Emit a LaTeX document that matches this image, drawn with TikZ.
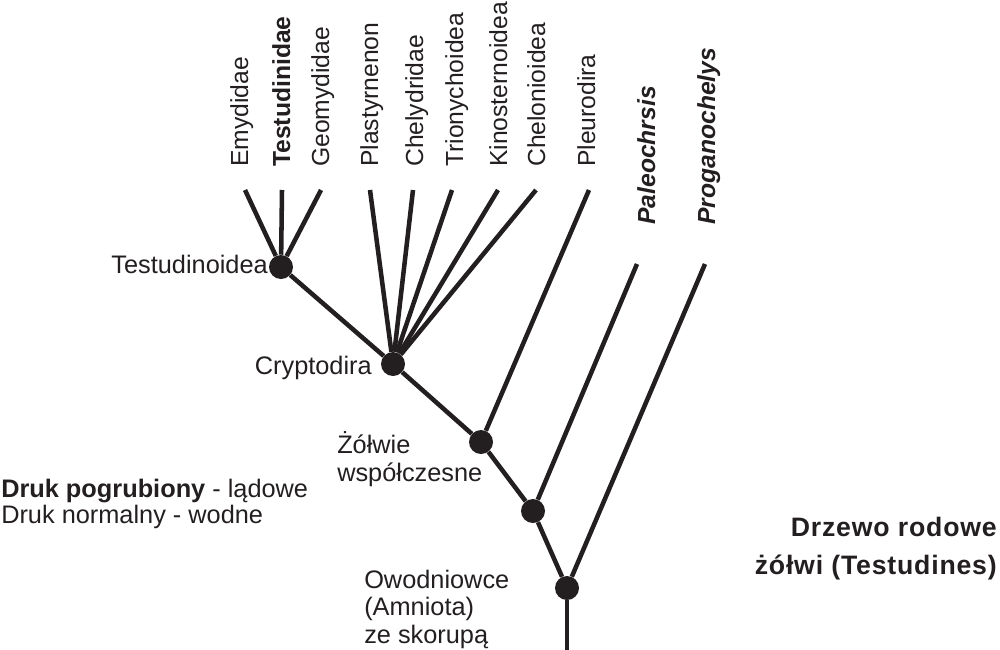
\documentclass[tikz,border=0pt]{standalone}
\usepackage{fontspec}
\setmainfont{Liberation Sans}
\newfontfamily\titlefont[LetterSpace=3]{Liberation Sans}
\usepackage{xcolor}
\usepackage{tikz}
\usetikzlibrary{positioning}
\definecolor{ink}{HTML}{231F20}

\begin{document}
\begin{tikzpicture}[
    x=0.75pt, y=-0.75pt,
    every node/.style={inner sep=0pt, text=ink},
    branch/.style={line width=3.4pt, draw=ink},
    clade/.style={circle, fill=ink, minimum size=18pt, inner sep=0pt},
    taxon/.style={rotate=90, anchor=base west, font=\fontsize{18.5}{22}\selectfont},
    lbl/.style={font=\fontsize{19}{20.5}\selectfont, align=left}
]
\useasboundingbox (0,0) rectangle (1000,650);

% clades
\node[clade] (testud) at (281,267) {};
\node[clade] (crypt)  at (393,364) {};
\node[clade] (modern) at (481,442) {};
\node[clade] (stem)   at (533,511) {};
\node[clade] (amnio)  at (567,588) {};
\coordinate (base) at (567,650);

% taxa
\node[taxon] (emy) at (248,167) {Emydidae};
\node[taxon] (tes) at (290,167) {\bfseries Testudinidae};
\node[taxon] (geo) at (329,167) {Geomydidae};
\node[taxon] (pla) at (378,167) {Plastyrnenon};
\node[taxon] (che) at (423,167) {Chelydridae};
\node[taxon] (tri) at (463,167) {Trionychoidea};
\node[taxon] (kin) at (507,167) {Kinosternoidea};
\node[taxon] (chl) at (545,167) {Chelonioidea};
\node[taxon] (ple) at (595,167) {Pleurodira};
\node[taxon] (pal) at (655,225) {\bfseries\itshape Paleochrsis};
\node[taxon] (pro) at (715,225) {\bfseries\itshape Proganochelys};

% branch tips
\coordinate (emy-t) at (245,190);
\coordinate (tes-t) at (282,190);
\coordinate (geo-t) at (321,190);
\coordinate (pla-t) at (370,190);
\coordinate (che-t) at (413,190);
\coordinate (tri-t) at (452,190);
\coordinate (kin-t) at (498,190);
\coordinate (chl-t) at (536,190);
\coordinate (ple-t) at (589,190);
\coordinate (pal-t) at (637,264);
\coordinate (pro-t) at (705,264);

% branches
\draw[branch] (emy-t) -- (testud);
\draw[branch] (tes-t) -- (testud);
\draw[branch] (geo-t) -- (testud);
\draw[branch] (testud) -- (crypt);
\draw[branch] (pla-t) -- (crypt);
\draw[branch] (che-t) -- (crypt);
\draw[branch] (tri-t) -- (crypt);
\draw[branch] (kin-t) -- (crypt);
\draw[branch] (chl-t) -- (crypt);
\draw[branch] (crypt) -- (modern);
\draw[branch] (ple-t) -- (modern);
\draw[branch] (modern) -- (stem);
\draw[branch] (pal-t) -- (stem);
\draw[branch] (stem) -- (amnio);
\draw[branch] (pro-t) -- (amnio);
\draw[branch] (amnio) -- (base);

% clade labels (base = last line)
\node[lbl, anchor=base east] (testud-l) at (268,273) {Testudinoidea};
\node[lbl, anchor=base east] (crypt-l) at (372,374) {Cryptodira};
\node[lbl, anchor=base west] (modern-l) at (337,481) {Żółwie\\współczesne};
\node[lbl, anchor=base west] (amnio-l) at (364,643) {Owodniowce\\(Amniota)\\ze skorupą};

% legend and title
\node[lbl, anchor=base west, font=\fontsize{19}{19.5}\selectfont] (legend) at (1,523)
    {\textbf{Druk pogrubiony} - lądowe\\Druk normalny - wodne};
\node[lbl, anchor=base east, align=right, font=\titlefont\bfseries\fontsize{20}{28.5}\selectfont]
    (title) at (997,574) {Drzewo rodowe\\żółwi (Testudines)};
\end{tikzpicture}
\end{document}
